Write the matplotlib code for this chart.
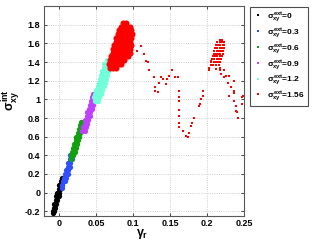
import numpy as np
import matplotlib
matplotlib.use('Agg')
import matplotlib.pyplot as plt
from matplotlib.lines import Line2D

plt.rcParams['font.family'] = ['Liberation Sans', 'DejaVu Sans']
plt.rcParams['font.weight'] = 'bold'
plt.rcParams['mathtext.fontset'] = 'custom'
plt.rcParams['mathtext.rm'] = 'Liberation Sans:bold'
plt.rcParams['mathtext.it'] = 'Liberation Sans:bold'
plt.rcParams['mathtext.bf'] = 'Liberation Sans:bold'

# sigma_ext = 0
black_x = [0.004, 0.002, 0.004, 0.000, 0.003, -0.001, 0.001, -0.003, 0.000, -0.004, -0.001,
           -0.005, -0.003, -0.007, -0.004, -0.008, -0.006, -0.009, -0.007, -0.009]
black_y = [0.16, 0.12, 0.12, 0.08, 0.08, 0.04, 0.04, 0.00, 0.00, -0.04, -0.04,
           -0.08, -0.08, -0.12, -0.12, -0.16, -0.16, -0.20, -0.20, -0.22]
# sigma_ext = 0.3
blue_x = [0.018, 0.015, 0.018, 0.014, 0.017, 0.012, 0.015, 0.011, 0.014, 0.009, 0.012,
          0.008, 0.011, 0.006, 0.009, 0.005, 0.007, 0.004, 0.003]
blue_y = [0.44, 0.40, 0.40, 0.36, 0.36, 0.32, 0.32, 0.28, 0.28, 0.24, 0.24,
          0.20, 0.20, 0.16, 0.16, 0.12, 0.12, 0.08, 0.05]
# sigma_ext = 0.6
green_x = [0.029, 0.032, 0.028, 0.031, 0.026, 0.029, 0.025, 0.028, 0.023, 0.027, 0.022,
           0.025, 0.020, 0.024, 0.019, 0.022, 0.017, 0.021, 0.016, 0.019, 0.016]
green_y = [0.76, 0.76, 0.72, 0.72, 0.68, 0.68, 0.64, 0.64, 0.60, 0.60, 0.56,
           0.56, 0.52, 0.52, 0.48, 0.48, 0.44, 0.44, 0.40, 0.40, 0.36]
# sigma_ext = 0.9
purple_x = [0.046, 0.049, 0.044, 0.048, 0.043, 0.047, 0.041, 0.045, 0.040, 0.044, 0.038,
            0.042, 0.037, 0.041, 0.035, 0.039, 0.034, 0.038, 0.032, 0.036, 0.031, 0.034]
purple_y = [1.06, 1.06, 1.02, 1.02, 0.98, 0.98, 0.94, 0.94, 0.90, 0.90, 0.86,
            0.86, 0.82, 0.82, 0.78, 0.78, 0.74, 0.74, 0.70, 0.70, 0.66, 0.66]
# sigma_ext = 1.2
cyan_x = [0.064, 0.067, 0.061, 0.065, 0.068, 0.060, 0.064, 0.067, 0.058, 0.062, 0.066,
          0.057, 0.061, 0.065, 0.055, 0.059, 0.063, 0.054, 0.058, 0.062, 0.052, 0.056, 0.060,
          0.050, 0.054, 0.058, 0.048, 0.052, 0.056, 0.047, 0.051, 0.054, 0.048, 0.052]
cyan_y = [1.42, 1.42, 1.38, 1.38, 1.38, 1.34, 1.34, 1.34, 1.30, 1.30, 1.30,
          1.26, 1.26, 1.26, 1.22, 1.22, 1.22, 1.18, 1.18, 1.18, 1.14, 1.14, 1.14,
          1.10, 1.10, 1.10, 1.06, 1.06, 1.06, 1.02, 1.02, 1.02, 0.98, 0.98]
# sigma_ext = 1.56, dense cloud near gamma ~ 0.08
red_blob_x = [0.086, 0.090,
              0.083, 0.087, 0.091, 0.095,
              0.081, 0.085, 0.089, 0.093, 0.097,
              0.079, 0.083, 0.087, 0.091, 0.095, 0.098,
              0.077, 0.081, 0.085, 0.089, 0.093, 0.097,
              0.076, 0.080, 0.084, 0.088, 0.092, 0.096,
              0.074, 0.078, 0.082, 0.086, 0.090, 0.094, 0.097,
              0.073, 0.077, 0.081, 0.085, 0.089, 0.093, 0.096,
              0.072, 0.076, 0.080, 0.084, 0.088, 0.092, 0.095,
              0.070, 0.074, 0.078, 0.082, 0.086, 0.090, 0.093,
              0.068, 0.072, 0.076, 0.080, 0.084, 0.088,
              0.067, 0.071, 0.075, 0.079, 0.083,
              0.068, 0.072, 0.076]
red_blob_y = [1.82, 1.82,
              1.78, 1.78, 1.78, 1.78,
              1.74, 1.74, 1.74, 1.74, 1.74,
              1.70, 1.70, 1.70, 1.70, 1.70, 1.70,
              1.66, 1.66, 1.66, 1.66, 1.66, 1.66,
              1.62, 1.62, 1.62, 1.62, 1.62, 1.62,
              1.58, 1.58, 1.58, 1.58, 1.58, 1.58, 1.58,
              1.54, 1.54, 1.54, 1.54, 1.54, 1.54, 1.54,
              1.50, 1.50, 1.50, 1.50, 1.50, 1.50, 1.50,
              1.46, 1.46, 1.46, 1.46, 1.46, 1.46, 1.46,
              1.42, 1.42, 1.42, 1.42, 1.42, 1.42,
              1.38, 1.38, 1.38, 1.38, 1.38,
              1.34, 1.34, 1.34]
# second cloud near gamma ~ 0.215
red_blob2_x = [0.217, 0.220,
               0.214, 0.217, 0.220, 0.223,
               0.212, 0.215, 0.218, 0.221, 0.223,
               0.211, 0.214, 0.217, 0.220, 0.223,
               0.210, 0.213, 0.216, 0.219, 0.222,
               0.209, 0.212, 0.215, 0.218, 0.221,
               0.208, 0.211, 0.214, 0.217, 0.220,
               0.207, 0.210, 0.213, 0.216, 0.219,
               0.206, 0.209, 0.212, 0.215, 0.218,
               0.205, 0.208, 0.212, 0.216]
red_blob2_y = [1.64, 1.64,
               1.61, 1.61, 1.61, 1.61,
               1.58, 1.58, 1.58, 1.58, 1.58,
               1.55, 1.55, 1.55, 1.55, 1.55,
               1.52, 1.52, 1.52, 1.52, 1.52,
               1.49, 1.49, 1.49, 1.49, 1.49,
               1.46, 1.46, 1.46, 1.46, 1.46,
               1.43, 1.43, 1.43, 1.43, 1.43,
               1.40, 1.40, 1.40, 1.40, 1.40,
               1.37, 1.37, 1.37, 1.37]
# scattered points of the sigma_ext = 1.56 run
red_trail_x = [0.097, 0.099, 0.096, 0.0995, 0.105, 0.110, 0.114, 0.117, 0.120, 0.121,
               0.128, 0.129, 0.130, 0.134, 0.135, 0.137, 0.140, 0.144, 0.146, 0.149,
               0.153, 0.157, 0.160, 0.162, 0.162, 0.162, 0.162, 0.162, 0.162, 0.162,
               0.168, 0.171, 0.174, 0.176, 0.178, 0.179, 0.183, 0.189, 0.190, 0.192,
               0.194, 0.195, 0.203, 0.206,
               0.203, 0.212, 0.217, 0.218, 0.219, 0.223, 0.226, 0.230, 0.223, 0.229,
               0.230, 0.232, 0.236, 0.236, 0.237, 0.236, 0.239, 0.239, 0.241, 0.242,
               0.248, 0.248, 0.249]
red_trail_y = [1.70, 1.62, 1.53, 1.56, 1.52, 1.57, 1.49, 1.41, 1.40, 1.32,
               1.24, 1.13, 1.09, 1.08, 1.18, 1.24, 1.22, 1.16, 1.22, 1.25,
               1.31, 1.24, 1.24, 1.09, 1.03, 0.98, 0.89, 0.82, 0.75, 0.70,
               0.66, 0.605, 0.60, 0.64, 0.71, 0.75, 0.80, 0.93, 0.95, 1.00,
               1.04, 1.09, 1.34, 1.41,
               1.31, 1.33, 1.34, 1.31, 1.27, 1.32, 1.25, 1.25, 1.24, 1.18,
               1.04, 1.13, 1.20, 1.09, 1.07, 0.98, 0.93, 0.87, 0.86, 0.80,
               1.02, 0.95, 1.04]

labels = ['0', '0.3', '0.6', '0.9', '1.2', '1.56']
colors = ['#000000', '#3050ff', '#10a010', '#c040ff', '#70ffd8', '#ff0000']

fig = plt.figure(figsize=(3.16, 2.44), dpi=100)
ax = fig.add_axes([0.139, 0.115, 0.633, 0.86])

series = [(black_x, black_y), (blue_x, blue_y), (green_x, green_y),
          (purple_x, purple_y), (cyan_x, cyan_y)]
for (sx, sy), c in zip(series, colors[:5]):
    ax.plot(sx, sy, 'o', color=c, ms=3.8, mew=0)
ax.plot(red_blob_x, red_blob_y, 'o', color=colors[5], ms=4.4, mew=0)
ax.plot(red_blob2_x, red_blob2_y, 's', color=colors[5], ms=1.9, mew=0)
ax.plot(red_trail_x, red_trail_y, 's', color=colors[5], ms=1.5, mew=0)

ax.set_xlim(-0.021, 0.25)
ax.set_ylim(-0.25, 2.0)
ax.set_xticks([0, 0.05, 0.1, 0.15, 0.2, 0.25])
ax.set_xticklabels(['0', '0.05', '0.1', '0.15', '0.2', '0.25'])
yt = np.round(np.arange(-0.2, 1.81, 0.2), 1)
ax.set_yticks(yt)
ax.set_yticklabels(['%g' % v for v in yt])
ax.tick_params(direction='in', length=2, width=0.5, labelsize=6.5,
               top=True, right=True, pad=2.5)
ax.grid(True, linestyle=':', color='0.75', linewidth=0.6)
for sp in ax.spines.values():
    sp.set_color('0.35')
    sp.set_linewidth(0.8)

ax.set_ylabel(r'$\sigma_{xy}^{int}$', fontsize=9)
ax.yaxis.set_label_coords(-0.11, 0.55)
ax.set_xlabel(r'$\gamma_r$', fontsize=9)
ax.xaxis.set_label_coords(0.49, -0.055)

handles = [Line2D([], [], ls='none', marker='s', ms=1.5, mew=0, color=c) for c in colors]
leg_labels = [r'$\sigma_{xy}^{ext}$=' + l for l in labels]
leg = fig.legend(handles, leg_labels, loc='upper left',
                 bbox_to_anchor=(250 / 316, 1 - 7 / 244), fontsize=6,
                 fancybox=False, edgecolor='0.3', framealpha=1,
                 handlelength=1.2, handletextpad=0.4, labelspacing=0.35,
                 borderpad=0.4, borderaxespad=0)
leg.get_frame().set_linewidth(0.8)

fig.savefig('out.png', dpi=100)
